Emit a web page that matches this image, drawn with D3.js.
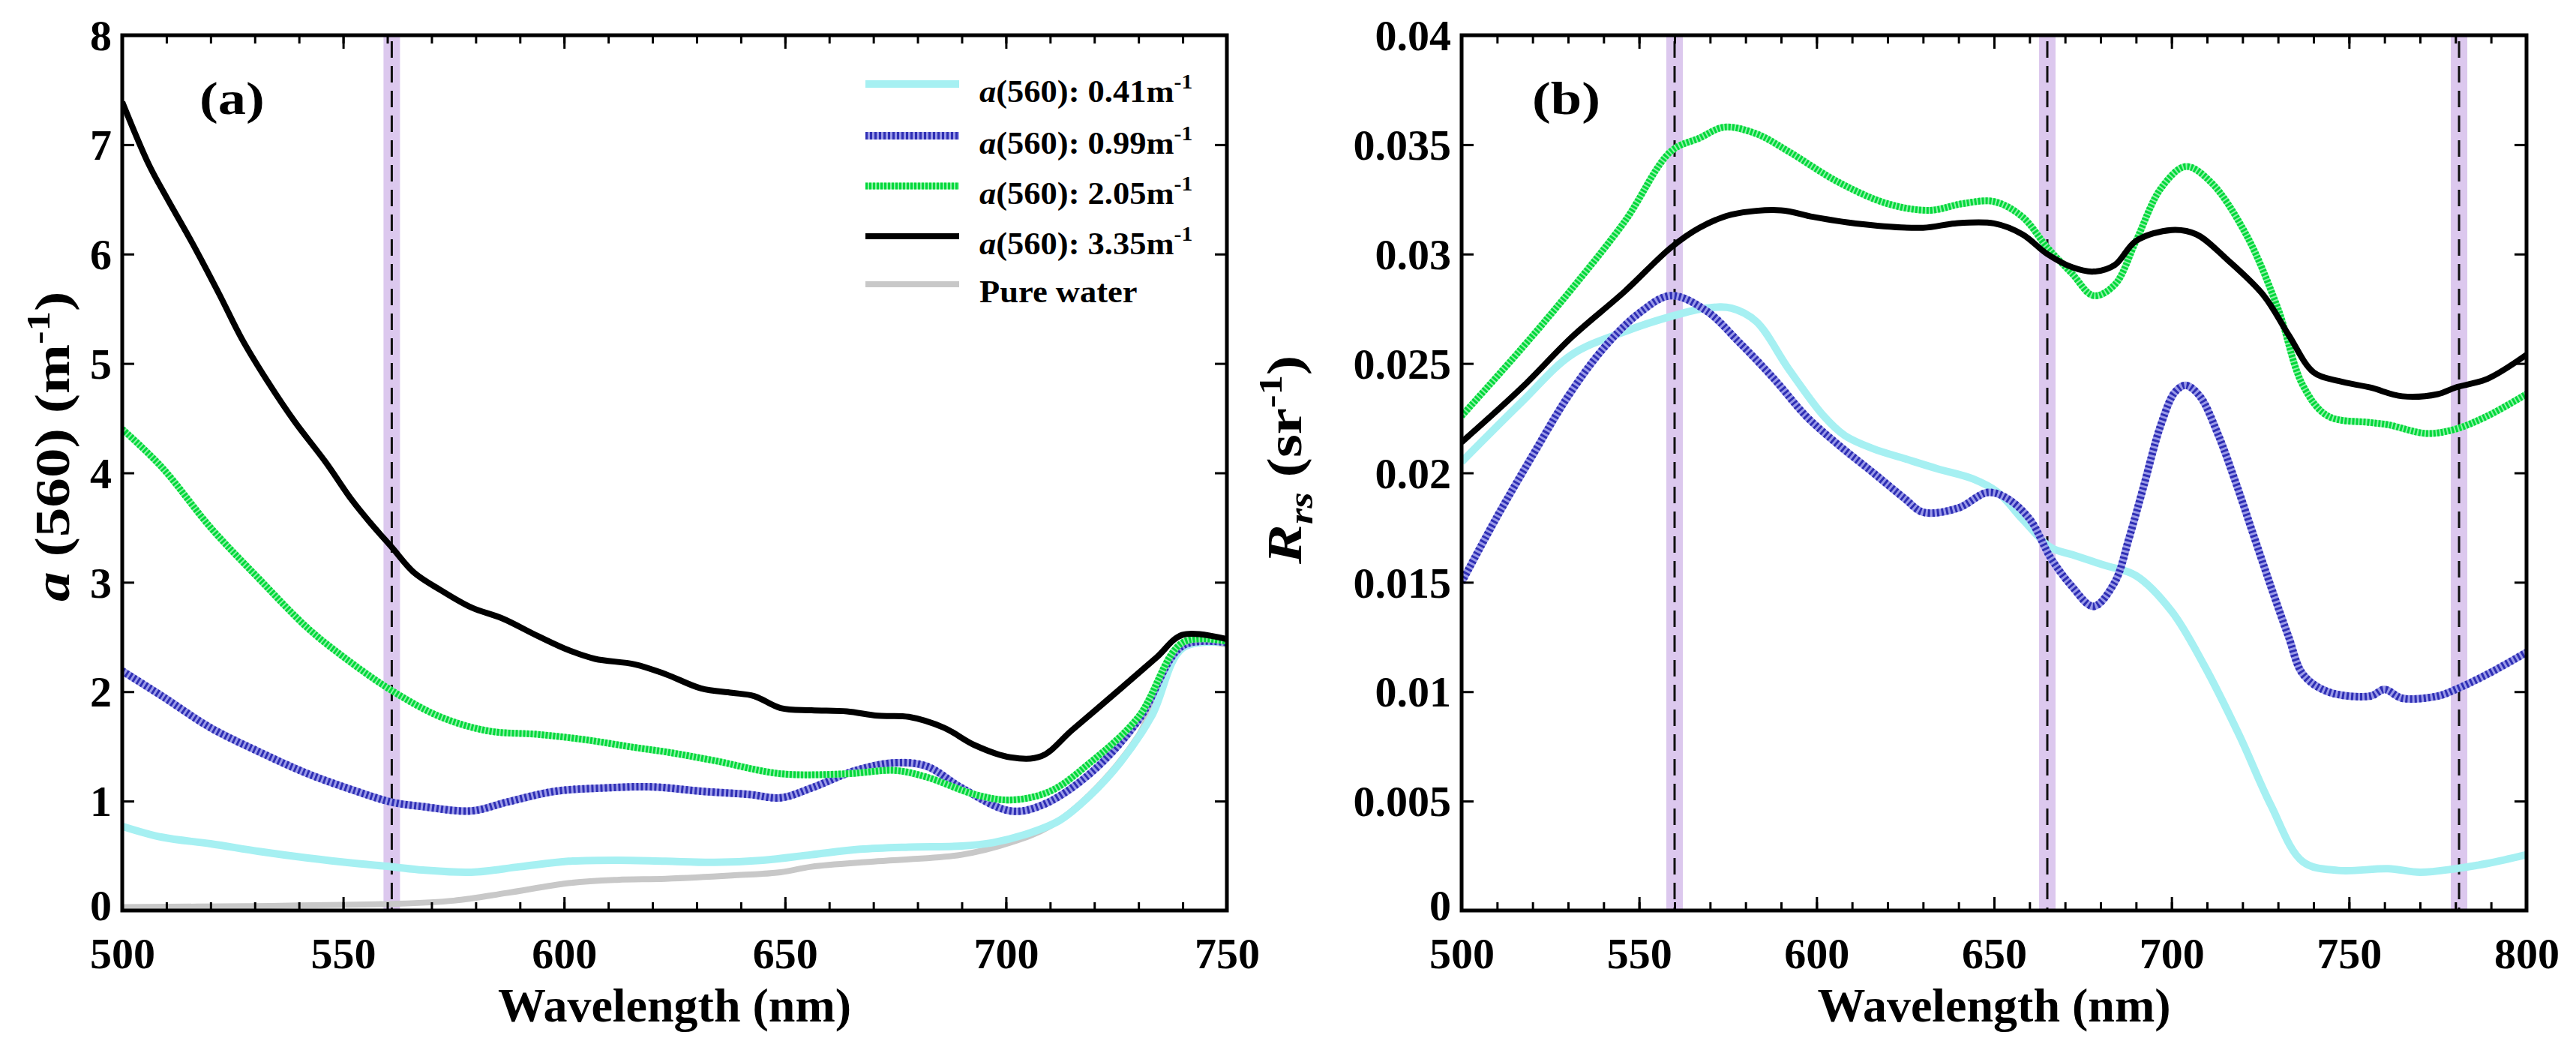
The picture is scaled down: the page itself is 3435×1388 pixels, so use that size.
<!DOCTYPE html>
<html>
<head>
<meta charset="utf-8">
<script src="https://cdn.jsdelivr.net/npm/d3@7"></script>
<style>
  body { margin: 0; background: #fff; }
  svg { display: block; }
  text { font-family: "Liberation Serif", "Times New Roman", serif; font-weight: bold; fill: #000; }
</style>
</head>
<body>
<svg width="3435" height="1388"></svg>
<script>
// ---- data ----
// panel (a): absorption a(lambda), m^-1
var absA041 = [[500,0.77],[509,0.67],[520,0.61],[531,0.54],[542,0.48],[553,0.43],[561,0.40],[568,0.37],[579,0.35],[590,0.40],[601,0.45],[612,0.46],[623,0.45],[634,0.44],[645,0.46],[656,0.51],[667,0.56],[678,0.58],[690,0.59],[697,0.62],[704,0.69],[712,0.82],[719,1.05],[726,1.36],[733,1.78],[740,2.40],[750,2.45]];
var absA099 = [[500,2.19],[509,1.96],[520,1.67],[531,1.45],[542,1.25],[553,1.09],[561,0.99],[568,0.95],[579,0.91],[587,0.99],[598,1.09],[609,1.12],[620,1.13],[631,1.09],[642,1.06],[649,1.03],[656,1.12],[666,1.28],[675,1.35],[682,1.32],[690,1.12],[701,0.91],[708,0.96],[719,1.25],[730,1.74],[740,2.42],[750,2.45]];
var absA205 = [[500,4.40],[509,4.05],[520,3.50],[531,3.03],[542,2.58],[550,2.32],[561,2.01],[572,1.77],[583,1.64],[594,1.61],[605,1.56],[616,1.49],[623,1.45],[634,1.37],[649,1.25],[664,1.25],[675,1.28],[682,1.22],[693,1.06],[701,1.01],[710,1.09],[719,1.35],[730,1.77],[740,2.45],[750,2.46]];
var absA335 = [[500,7.39],[506,6.82],[510,6.52],[516,6.09],[522,5.63],[527,5.23],[533,4.83],[539,4.47],[546,4.10],[552,3.75],[556,3.55],[561,3.32],[566,3.09],[572,2.93],[579,2.77],[586,2.67],[594,2.51],[601,2.38],[607,2.30],[616,2.25],[623,2.16],[631,2.03],[638,1.99],[643,1.96],[649,1.85],[656,1.83],[664,1.82],[671,1.78],[678,1.77],[686,1.67],[693,1.51],[701,1.40],[708,1.41],[715,1.65],[726,2.03],[734,2.31],[740,2.52],[750,2.48]];
var absWater = [[500,0.03],[528,0.04],[561,0.06],[575,0.09],[587,0.16],[601,0.25],[612,0.28],[623,0.29],[638,0.32],[649,0.35],[656,0.40],[671,0.45],[690,0.51],[701,0.62],[710,0.77],[719,1.06],[730,1.60],[740,2.42],[750,2.43]];

// panel (b): Rrs, sr^-1
var rrs041 = [[500,0.0205],[517,0.02325],[531,0.0254],[546,0.02646],[559,0.02715],[569,0.02753],[576,0.02753],[583,0.02692],[592,0.02478],[602,0.02260],[608,0.02170],[616,0.0211],[625,0.02064],[634,0.02019],[644,0.01973],[651,0.01912],[658,0.01788],[666,0.01659],[672,0.01626],[681,0.01578],[690,0.0153],[700,0.01368],[709,0.01126],[719,0.00804],[728,0.00481],[737,0.00223],[747,0.00183],[761,0.00191],[770,0.00175],[780,0.00191],[789,0.00215],[800,0.00255]];
var rrs099 = [[500,0.0150],[510,0.0180],[520,0.0208],[530,0.0235],[540,0.0257],[550,0.0273],[559,0.0281],[569,0.0274],[578,0.0260],[588,0.0243],[597,0.0226],[606,0.0213],[616,0.0200],[625,0.0188],[630,0.0182],[640,0.0184],[648,0.0191],[653,0.0189],[660,0.0179],[666,0.0161],[672,0.0148],[678,0.0139],[684,0.0150],[688,0.0170],[692,0.0193],[697,0.0222],[701,0.0237],[704,0.0240],[708,0.0235],[713,0.0218],[718,0.0196],[723,0.0172],[728,0.0148],[733,0.0125],[737,0.0108],[744,0.0100],[756,0.0098],[760,0.0101],[765,0.0097],[775,0.0098],[780,0.0101],[789,0.0108],[800,0.0118]];
var rrs205 = [[500,0.0226],[517,0.0257],[531,0.0284],[546,0.0315],[559,0.0347],[567,0.0353],[574,0.0358],[583,0.0355],[592,0.0347],[606,0.0333],[620,0.0323],[632,0.0320],[641,0.0323],[650,0.0324],[658,0.0317],[665,0.0303],[672,0.0291],[678,0.0281],[684,0.0286],[690,0.0306],[697,0.0330],[704,0.0340],[711,0.0333],[721,0.0309],[730,0.0275],[737,0.0240],[744,0.0226],[756,0.0223],[761,0.0222],[772,0.0218],[780,0.0220],[789,0.0226],[800,0.0236]];
var rrs335 = [[500,0.0214],[517,0.0239],[531,0.0262],[546,0.0283],[559,0.0303],[567,0.0312],[576,0.0318],[590,0.0320],[599,0.0317],[611,0.0314],[630,0.0312],[639,0.0314],[650,0.0314],[658,0.0309],[665,0.0300],[672,0.0294],[678,0.0292],[684,0.0295],[690,0.0306],[700,0.0311],[707,0.0309],[716,0.0297],[726,0.0281],[733,0.0263],[740,0.0246],[747,0.0242],[756,0.0239],[765,0.0235],[775,0.0236],[780,0.0239],[789,0.0243],[800,0.0254]];

var legendLabels = ["0.41", "0.99", "2.05", "3.35"];
var bandsA = [561];
var bandsB = [560, 665, 781];
var xTicksA = [500, 550, 600, 650, 700, 750];
var xTicksB = [500, 550, 600, 650, 700, 750, 800];
var yTicksA = [0, 1, 2, 3, 4, 5, 6, 7, 8];
var yTicksB = [0, 0.005, 0.01, 0.015, 0.02, 0.025, 0.03, 0.035, 0.04];

// line styles
var styles = {
    c041:  { base: "#a6f0f2", width: 10 },
    c099:  { base: "#9a9ae8", top: "#2e2eb4", width: 10, dash: "3,3" },
    c205:  { base: "#8ff2a8", top: "#00d83a", width: 9, dash: "3,2" },
    c335:  { base: "#000000", width: 8 },
    water: { base: "#c8c8c8", width: 8 }
};
var FONT = "'Liberation Serif','Times New Roman',serif";

var svg = d3.select("svg");

function drawLine(g, data, x, y, st) {
    var line = d3.line()
        .x(function(d) { return x(d[0]); })
        .y(function(d) { return y(d[1]); })
        .curve(d3.curveCatmullRom.alpha(0.5));
    g.append("path").datum(data)
        .attr("fill", "none")
        .attr("stroke", st.base)
        .attr("stroke-width", st.width)
        .attr("stroke-linejoin", "round")
        .attr("d", line);
    if (st.top) {
        g.append("path").datum(data)
            .attr("fill", "none")
            .attr("stroke", st.top)
            .attr("stroke-width", st.width)
            .attr("stroke-dasharray", st.dash)
            .attr("d", line);
    }
}

function drawPanel(id, x, y, xTicks, yTicks, yFmt, bands, series) {
    var x0 = x.range()[0], x1 = x.range()[1], yb = y.range()[0], yt = y.range()[1];
    var g = svg.append("g");

    svg.append("clipPath").attr("id", "clip" + id)
        .append("rect").attr("x", x0).attr("y", yt).attr("width", x1 - x0).attr("height", yb - yt);

    // highlighted bands
    bands.forEach(function(b) {
        g.append("rect")
            .attr("x", x(b) - 11).attr("y", yt)
            .attr("width", 22).attr("height", yb - yt)
            .attr("fill", "#dcc8ee");
        g.append("line")
            .attr("x1", x(b)).attr("x2", x(b))
            .attr("y1", yt + 8).attr("y2", yb)
            .attr("stroke", "#111").attr("stroke-width", 3)
            .attr("stroke-dasharray", "22,11");
    });

    var lines = g.append("g").attr("clip-path", "url(#clip" + id + ")");
    series.forEach(function(s) { drawLine(lines, s[0], x, y, s[1]); });

    // minor ticks every 10 nm
    var minor = d3.range(x.domain()[0], x.domain()[1] + 1, 10);
    g.append("g").attr("transform", "translate(0," + yb + ")")
        .call(d3.axisBottom(x).tickValues(minor).tickSize(-11).tickSizeOuter(0).tickFormat(""));
    g.append("g").attr("transform", "translate(0," + yt + ")")
        .call(d3.axisTop(x).tickValues(minor).tickSize(-11).tickSizeOuter(0).tickFormat(""));

    g.append("g").attr("transform", "translate(0," + yb + ")")
        .call(d3.axisBottom(x).tickValues(xTicks).tickSize(-18).tickSizeOuter(0).tickPadding(36).tickFormat(d3.format("d")));
    g.append("g").attr("transform", "translate(0," + yt + ")")
        .call(d3.axisTop(x).tickValues(xTicks).tickSize(-18).tickSizeOuter(0).tickFormat(""));

    var yl = g.append("g").attr("transform", "translate(" + x0 + ",0)")
        .call(d3.axisLeft(y).tickValues(yTicks).tickSize(-16).tickSizeOuter(0).tickPadding(14).tickFormat(yFmt));
    g.append("g").attr("transform", "translate(" + x1 + ",0)")
        .call(d3.axisRight(y).tickValues(yTicks).tickSize(-16).tickSizeOuter(0).tickFormat(""));

    g.selectAll(".domain").remove();
    g.selectAll(".tick line").attr("stroke", "#000").attr("stroke-width", 3);
    g.selectAll(".tick text")
        .attr("font-family", FONT)
        .attr("font-weight", "bold")
        .attr("font-size", 58)
        .attr("fill", "#000");
    yl.selectAll(".tick text").attr("dy", function(d) { return d === 0 ? "0.22em" : "0.34em"; });

    // frame
    g.append("rect")
        .attr("x", x0).attr("y", yt)
        .attr("width", x1 - x0).attr("height", yb - yt)
        .attr("fill", "none").attr("stroke", "#000").attr("stroke-width", 5);

    // x title
    g.append("text")
        .attr("x", (x0 + x1) / 2).attr("y", 1362)
        .attr("text-anchor", "middle")
        .attr("font-size", 64)
        .text("Wavelength (nm)");
    return g;
}

var xA = d3.scaleLinear().domain([500, 750]).range([163, 1636]);
var yA = d3.scaleLinear().domain([0, 8]).range([1214, 47]);
var xB = d3.scaleLinear().domain([500, 800]).range([1949, 3369]);
var yB = d3.scaleLinear().domain([0, 0.04]).range([1214, 47]);

drawPanel("a", xA, yA, xTicksA, yTicksA, d3.format("d"), bandsA, [
    [absWater, styles.water], [absA041, styles.c041], [absA099, styles.c099],
    [absA205, styles.c205], [absA335, styles.c335]
]);
drawPanel("b", xB, yB, xTicksB, yTicksB, function(d) { return d === 0 ? "0" : String(+d.toFixed(3)); }, bandsB, [
    [rrs041, styles.c041], [rrs099, styles.c099], [rrs205, styles.c205], [rrs335, styles.c335]
]);

// y titles
var tA = svg.append("text")
    .attr("transform", "translate(92,802) rotate(-90) scale(1.2,1)")
    .attr("font-size", 66);
tA.append("tspan").attr("font-style", "italic").text("a");
tA.append("tspan").text(" (560) (m");
tA.append("tspan").attr("font-size", 44).attr("dy", -26).text("-1");
tA.append("tspan").attr("dy", 26).text(")");

var tB = svg.append("text")
    .attr("transform", "translate(1735,752) rotate(-90) scale(1.2,1)")
    .attr("font-size", 66);
tB.append("tspan").attr("font-style", "italic").text("R");
tB.append("tspan").attr("font-style", "italic").attr("font-size", 46).attr("dy", 15).text("rs");
tB.append("tspan").attr("dy", -15).text("\u00a0(sr");
tB.append("tspan").attr("font-size", 44).attr("dy", -26).text("-1");
tB.append("tspan").attr("dy", 26).text(")");

// panel letters
[["(a)", 266], ["(b)", 2043]].forEach(function(p) {
    svg.append("text")
        .attr("transform", "translate(" + p[1] + ",152) scale(1.2,1)")
        .attr("font-size", 62)
        .text(p[0]);
});

// legend in panel (a)
var legendStyles = [styles.c041, styles.c099, styles.c205, styles.c335, styles.water];
var legendY = [112, 181, 248, 315, 379];
var legX = d3.scaleLinear().domain([0, 1]).range([1154, 1279]);
legendStyles.forEach(function(st, i) {
    var yy = legendY[i];
    drawLine(svg, [[0, yy], [1, yy]], legX, function(v) { return v; }, st);
    var t = svg.append("text")
        .attr("transform", "translate(1306," + (yy + 24) + ") scale(1.06,1)")
        .attr("font-size", 42);
    if (i < 4) {
        t.append("tspan").attr("font-style", "italic").text("a");
        t.append("tspan").text("(560): " + legendLabels[i] + "m");
        t.append("tspan").attr("font-size", 28).attr("dy", -18).text("-1");
    } else {
        t.text("Pure water");
    }
});
</script>
</body>
</html>
